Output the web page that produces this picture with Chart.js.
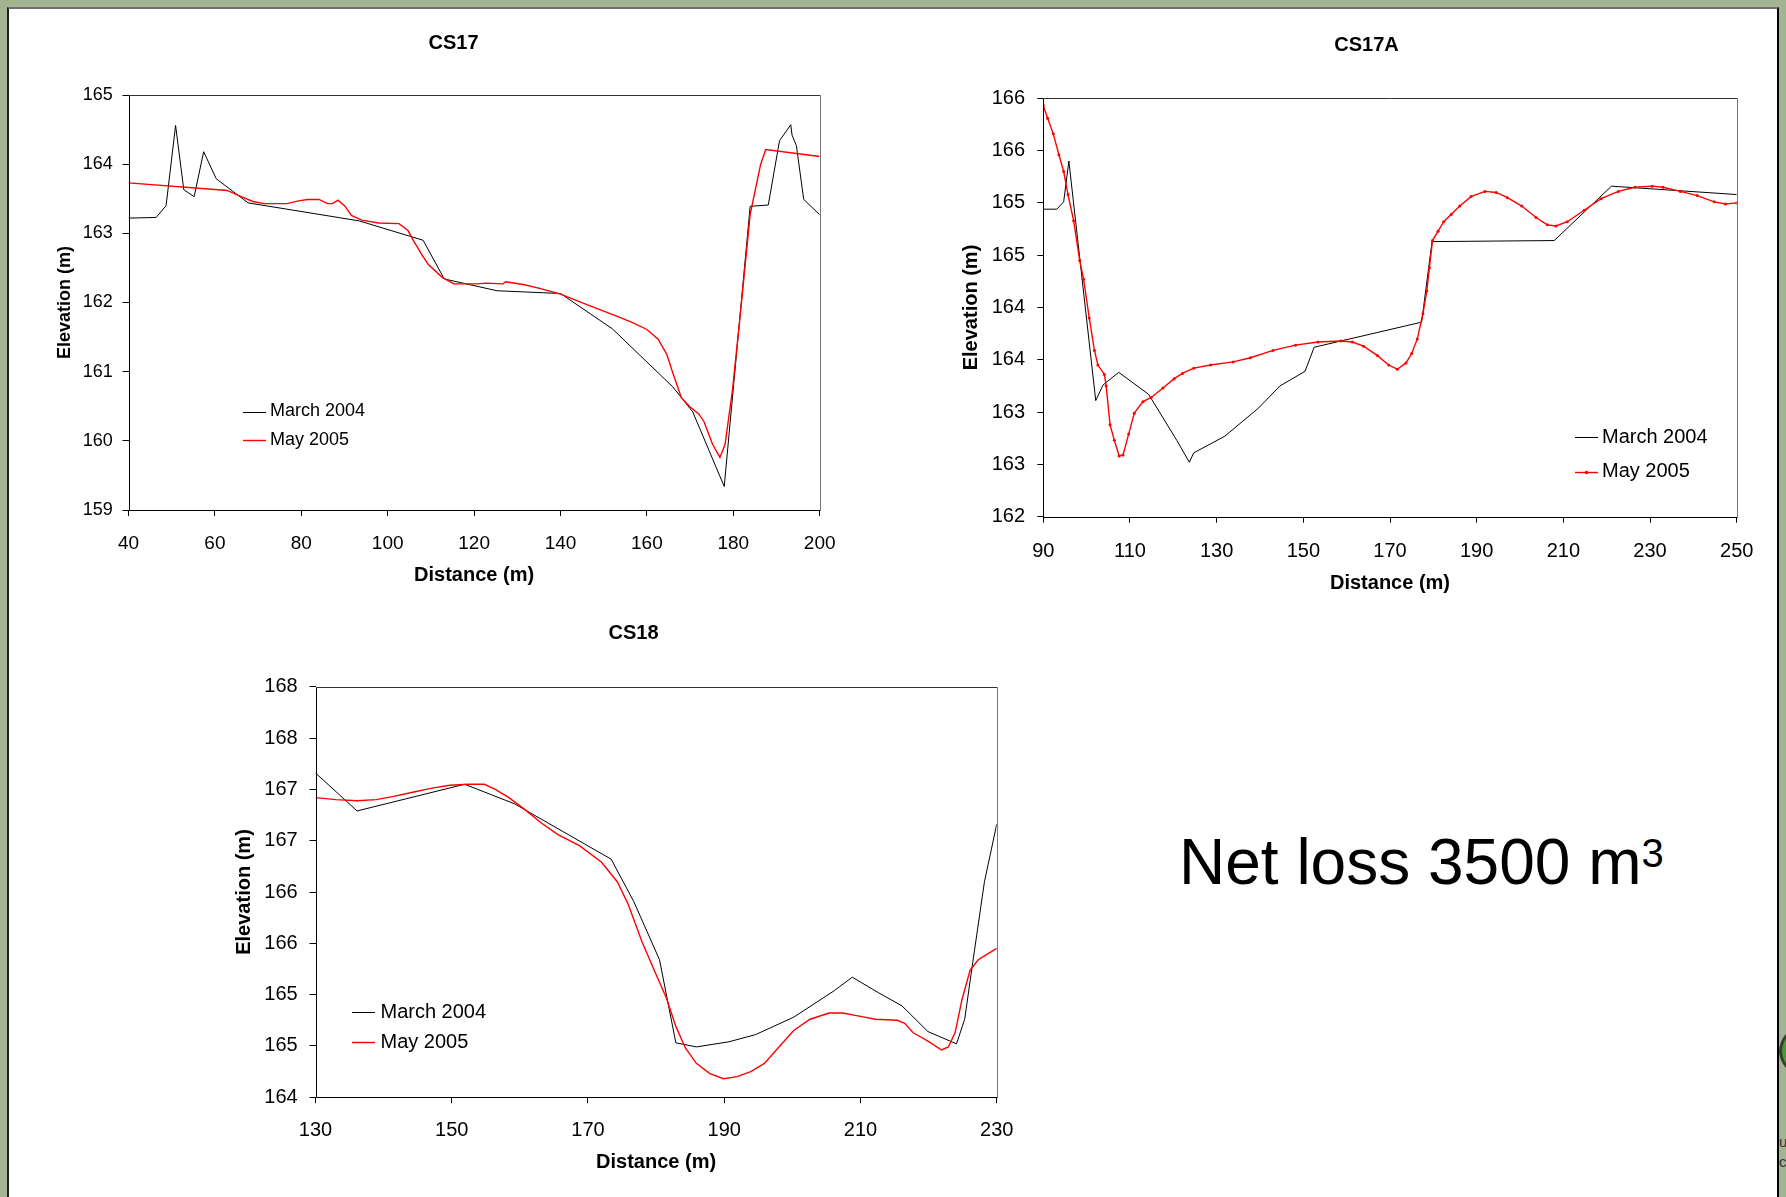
<!DOCTYPE html>
<html>
<head>
<meta charset="utf-8">
<title>Cross-section change CS17, CS17A, CS18</title>
<script src="https://cdn.jsdelivr.net/npm/chart.js@4.4.1/dist/chart.umd.min.js"></script>
<style>
  html, body { margin:0; padding:0; }
  body { width:1786px; height:1197px; overflow:hidden; position:relative; background:#a3b492; font-family:"Liberation Sans", Arial, sans-serif; }
  #slide { position:absolute; left:7px; top:7px; width:1772px; height:1210px; box-sizing:border-box; background:#fff; border-left:2px solid #1e1e1e; border-top:2px solid #6e6e6e; border-right:2px solid #000; }
  canvas { position:absolute; }
  #netloss { position:absolute; left:1179px; top:830px; font-size:64px; line-height:1; color:#000; white-space:nowrap; }
  #netloss sup { font-size:40px; vertical-align:baseline; position:relative; top:-17px; }
  #logo { position:absolute; left:1779px; top:990px; width:7px; height:200px; overflow:hidden; }
  #logo .ring { position:absolute; left:0; top:12px; width:220px; height:98px; border-radius:50%; border:3px solid #33412c; background:#4a9a35; box-sizing:border-box; }
  #logo .t { position:absolute; left:0; font-size:15px; color:#333; }
</style>
</head>
<body>
<div id="slide"></div>
<canvas id="cs17"></canvas>
<canvas id="cs17a"></canvas>
<canvas id="cs18"></canvas>
<div id="netloss">Net loss 3500 m<sup>3</sup></div>
<div id="logo"><div class="ring"></div><div class="t" style="top:143px">ua</div><div class="t" style="top:163px">c</div></div>
<script>
// ---------------- DATA ----------------
const seriesLabels = ['March 2004', 'May 2005'];

// CS17
const cs17XTicks = [40, 60, 80, 100, 120, 140, 160, 180, 200];
const cs17YTickValues = [159, 160, 161, 162, 163, 164, 165];
const cs17YTickLabels = ['159', '160', '161', '162', '163', '164', '165'];
const cs17MarchX = [40, 46.4, 48.7, 50.9, 52.8, 55.2, 57.4, 60.3, 67.7, 93.4, 108.2, 113.1, 125.3, 140.0, 152.0, 166.0, 170.6, 177.9, 183.9, 188.1, 190.7, 193.3, 193.6, 194.6, 196.3, 200];
const cs17MarchY = [163.22, 163.23, 163.40, 164.56, 163.63, 163.53, 164.18, 163.79, 163.44, 163.18, 162.90, 162.34, 162.17, 162.13, 161.62, 160.78, 160.42, 159.34, 163.39, 163.41, 164.34, 164.57, 164.42, 164.27, 163.49, 163.27];
const cs17MayX = [40, 60.8, 62.8, 66.1, 68.8, 71.4, 76.7, 79.4, 81.4, 84.1, 86.1, 87.2, 88.5, 90.0, 91.6, 94.0, 97.9, 102.6, 104.7, 106.0, 108.0, 109.4, 112.7, 115.3, 120.7, 122.7, 126.7, 127.3, 131.4, 135.4, 140.0, 147.3, 152.7, 156.7, 160.0, 162.6, 164.6, 166.0, 168.0, 170.0, 172.0, 173.2, 175.2, 176.9, 178.1, 179.8, 181.8, 183.9, 185.2, 186.3, 187.5, 200];
const cs17MayY = [163.73, 163.63, 163.62, 163.53, 163.46, 163.43, 163.43, 163.47, 163.49, 163.49, 163.43, 163.43, 163.48, 163.40, 163.26, 163.19, 163.15, 163.14, 163.04, 162.89, 162.68, 162.55, 162.36, 162.27, 162.27, 162.28, 162.27, 162.30, 162.26, 162.20, 162.12, 161.94, 161.81, 161.71, 161.61, 161.47, 161.25, 160.98, 160.62, 160.49, 160.39, 160.28, 159.95, 159.76, 159.95, 160.73, 161.94, 163.27, 163.66, 163.99, 164.21, 164.11];

// CS17A
const cs17aXTicks = [90, 110, 130, 150, 170, 190, 210, 230, 250];
const cs17aYTickValues = [162, 162.5, 163, 163.5, 164, 164.5, 165, 165.5, 166];
const cs17aYTickLabels = ['162', '163', '163', '164', '164', '165', '165', '166', '166'];
const cs17aMarchX = [90, 93.1, 94.7, 95.9, 102.1, 103.8, 107.4, 114.3, 120.8, 123.7, 124.7, 131.9, 139.7, 144.6, 150.4, 152.5, 177.3, 179.7, 207.9, 221.1, 250];
const cs17aMarchY = [164.94, 164.94, 165.01, 165.40, 163.11, 163.26, 163.38, 163.17, 162.73, 162.52, 162.61, 162.77, 163.04, 163.25, 163.39, 163.62, 163.86, 164.63, 164.64, 165.16, 165.08];
const cs17aMayX = [90, 91.0, 92.3, 93.6, 94.7, 95.7, 97.0, 98.4, 99.3, 100.6, 101.8, 102.6, 104.1, 104.5, 105.4, 106.4, 107.5, 108.4, 109.7, 111.0, 113.0, 114.9, 117.6, 120.2, 122.1, 124.7, 128.6, 133.8, 137.8, 143.0, 148.2, 153.4, 158.6, 161.3, 163.9, 167.1, 169.7, 171.7, 173.7, 175.0, 176.3, 177.6, 178.5, 179.1, 179.8, 181.1, 182.4, 184.1, 186.1, 188.7, 191.9, 194.5, 197.1, 200.4, 203.7, 206.3, 208.3, 210.9, 214.8, 218.7, 222.7, 226.5, 230.5, 233.0, 237.0, 240.9, 244.8, 247.4, 250];
const cs17aMayY = [165.93, 165.81, 165.66, 165.46, 165.30, 165.08, 164.83, 164.45, 164.27, 163.90, 163.59, 163.45, 163.36, 163.25, 162.88, 162.73, 162.58, 162.59, 162.79, 162.99, 163.10, 163.14, 163.23, 163.32, 163.37, 163.42, 163.45, 163.48, 163.52, 163.59, 163.64, 163.67, 163.68, 163.67, 163.63, 163.54, 163.45, 163.41, 163.47, 163.56, 163.70, 163.94, 164.16, 164.38, 164.64, 164.73, 164.82, 164.89, 164.97, 165.06, 165.11, 165.10, 165.05, 164.97, 164.86, 164.79, 164.78, 164.82, 164.93, 165.04, 165.11, 165.15, 165.16, 165.15, 165.11, 165.07, 165.01, 164.99, 165.0];

// CS18
const cs18XTicks = [130, 150, 170, 190, 210, 230];
const cs18YTickValues = [164, 164.5, 165, 165.5, 166, 166.5, 167, 167.5, 168];
const cs18YTickLabels = ['164', '165', '165', '166', '166', '167', '167', '168', '168'];
const cs18MarchX = [130, 136.1, 151.9, 159.2, 173.4, 176.7, 180.5, 182.9, 185.9, 190.7, 194.6, 200.2, 206.2, 208.8, 212.6, 216.1, 219.9, 224.1, 225.3, 226.5, 228.2, 230];
const cs18MarchY = [167.16, 166.79, 167.05, 166.86, 166.32, 165.91, 165.34, 164.53, 164.49, 164.54, 164.61, 164.78, 165.04, 165.17, 165.02, 164.89, 164.64, 164.52, 164.76, 165.32, 166.10, 166.66];
const cs18MayX = [130, 133.0, 136.1, 138.9, 141.3, 144.1, 146.9, 149.7, 152.5, 154.8, 156.4, 158.4, 160.8, 163.2, 165.6, 168.8, 172.0, 174.3, 175.9, 177.9, 179.9, 181.5, 182.9, 184.3, 185.9, 187.9, 189.9, 191.9, 193.9, 195.9, 197.9, 200.2, 202.6, 205.4, 207.4, 209.8, 212.2, 215.4, 216.5, 217.7, 220.1, 221.9, 222.9, 223.9, 224.9, 226.1, 227.3, 228.5, 230];
const cs18MayY = [166.92, 166.90, 166.89, 166.90, 166.93, 166.97, 167.01, 167.04, 167.05, 167.05, 167.00, 166.92, 166.80, 166.67, 166.56, 166.45, 166.29, 166.10, 165.88, 165.52, 165.21, 164.97, 164.69, 164.48, 164.33, 164.23, 164.18, 164.20, 164.25, 164.33, 164.48, 164.65, 164.76, 164.82, 164.82, 164.79, 164.76, 164.75, 164.72, 164.63, 164.54, 164.46, 164.49, 164.63, 164.95, 165.24, 165.34, 165.39, 165.45];

// ---------------- RENDERING ----------------
const FONT_FAMILY = '"Liberation Sans", Arial, sans-serif';
function pts(xs, ys) { return xs.map((x, i) => ({ x: x, y: ys[i] })); }

const plotFrame = {
  id: 'plotFrame',
  afterDatasetsDraw(chart) {
    const { ctx, chartArea } = chart;
    const l = Math.round(chartArea.left) + 0.5, t = Math.round(chartArea.top) + 0.5;
    const r = Math.round(chartArea.right) + 0.5, b = Math.round(chartArea.bottom) + 0.5;
    ctx.save();
    ctx.lineWidth = 1;
    ctx.strokeStyle = '#333';
    ctx.beginPath(); ctx.moveTo(l, t); ctx.lineTo(r, t); ctx.stroke();
    ctx.strokeStyle = '#777';
    ctx.beginPath(); ctx.moveTo(r, t); ctx.lineTo(r, b); ctx.stroke();
    ctx.strokeStyle = '#000';
    ctx.beginPath(); ctx.moveTo(l, t); ctx.lineTo(l, b); ctx.lineTo(r, b); ctx.stroke();
    ctx.restore();
  }
};

const insideLegend = {
  id: 'insideLegend',
  afterDraw(chart, args, o) {
    const ctx = chart.ctx;
    ctx.save();
    ctx.font = o.size + 'px ' + FONT_FAMILY;
    ctx.textBaseline = 'middle';
    ctx.textAlign = 'left';
    chart.data.datasets.forEach((ds, i) => {
      const y = o.y[i] - o.T;
      const x1 = o.x1 - o.L, x2 = o.x2 - o.L;
      const yl = Math.round(y) + 0.5;
      ctx.strokeStyle = ds.borderColor;
      ctx.lineWidth = ds.borderWidth;
      ctx.beginPath(); ctx.moveTo(x1, yl); ctx.lineTo(x2, yl); ctx.stroke();
      if (ds.pointRadius > 0) {
        ctx.fillStyle = ds.borderColor;
        ctx.beginPath(); ctx.arc((x1 + x2) / 2, yl, ds.pointRadius + 0.3, 0, Math.PI * 2); ctx.fill();
      }
      ctx.fillStyle = '#000';
      ctx.fillText(ds.label, o.tx - o.L, y);
    });
    ctx.restore();
  }
};

function buildChart(id, s) {
  const canvas = document.getElementById(id);
  const area = s.area;
  const tLH = s.titleSize * 1.2, yLH = s.yTitleSize * 1.2, xLH = s.xTitleSize * 1.2;
  // left edge of the y scale box and canvas extent, so the chart title centres where it should
  const leftEdge = s.yTitleCX - yLH / 2 - 2;
  const canvasRight = 2 * s.titleCX - leftEdge;
  const L = Math.floor(leftEdge - 8), T = s.T, W = Math.ceil(canvasRight - L), H = s.H;
  const pL = leftEdge - L, pR = L + W - canvasRight;
  const rGap = canvasRight - area.r;
  const yW = area.l - leftEdge;
  const pT = s.titleCY - T - tLH / 2;
  const titlePadB = area.t - (T + pT + tLH);
  const xH = s.xTitleCY + xLH / 2 - area.b;
  const pB = T + H - (area.b + xH);
  const xTickPad = s.xLabelCY - area.b - 6 - (s.xTickSize * 1.2) / 2;
  const yTickPad = area.l - 6 - s.yLabelRight;

  canvas.width = W; canvas.height = H;
  canvas.style.left = L + 'px'; canvas.style.top = T + 'px';
  canvas.style.width = W + 'px'; canvas.style.height = H + 'px';

  const datasets = [
    { label: seriesLabels[0], data: s.march, borderColor: '#000000', backgroundColor: '#000000', borderWidth: 1, pointRadius: 0, showLine: true, tension: 0, order: 1 },
    { label: seriesLabels[1], data: s.may, borderColor: '#ff0000', backgroundColor: '#ff0000', borderWidth: 1.4, pointRadius: s.mayMarker, pointBorderWidth: 0, pointBackgroundColor: '#ff0000', showLine: true, tension: 0, order: 0 }
  ];

  return new Chart(canvas, {
    type: 'scatter',
    data: { datasets: datasets },
    options: {
      responsive: false, animation: false, devicePixelRatio: 1,
      events: [],
      layout: { padding: { left: pL, right: pR, top: pT, bottom: pB } },
      plugins: {
        legend: { display: false }, tooltip: { enabled: false },
        title: { display: true, text: s.title, color: '#000', font: { family: FONT_FAMILY, size: s.titleSize, weight: 'bold', lineHeight: 1.2 }, padding: { top: 0, bottom: titlePadB } },
        insideLegend: Object.assign({ L: L, T: T }, s.legend)
      },
      scales: {
        x: {
          type: 'linear', position: 'bottom', min: s.xTicks[0], max: s.xTicks[s.xTicks.length - 1],
          afterFit: sc => { sc.height = xH; sc.paddingRight = rGap; sc.paddingLeft = 0; },
          afterBuildTicks: sc => { sc.ticks = s.xTicks.map(v => ({ value: v })); },
          ticks: { autoSkip: false, maxRotation: 0, padding: xTickPad, color: '#000', font: { family: FONT_FAMILY, size: s.xTickSize, lineHeight: 1.2 }, callback: v => String(v) },
          grid: { display: true, drawOnChartArea: false, drawTicks: true, tickLength: 6, color: '#000', lineWidth: 1 },
          border: { display: false },
          title: { display: true, text: 'Distance (m)', color: '#000', font: { family: FONT_FAMILY, size: s.xTitleSize, weight: 'bold', lineHeight: 1.2 }, padding: { top: 0, bottom: 0 } }
        },
        y: {
          type: 'linear', position: 'left', min: s.yTickValues[0], max: s.yTickValues[s.yTickValues.length - 1],
          afterFit: sc => { sc.width = yW; },
          afterBuildTicks: sc => { sc.ticks = s.yTickValues.map(v => ({ value: v })); },
          ticks: { autoSkip: false, padding: yTickPad, color: '#000', font: { family: FONT_FAMILY, size: s.yTickSize, lineHeight: 1.2 }, callback: (v, i) => s.yTickLabels[i] },
          grid: { display: true, drawOnChartArea: false, drawTicks: true, tickLength: 6, color: '#000', lineWidth: 1 },
          border: { display: false },
          title: { display: true, text: 'Elevation (m)', color: '#000', font: { family: FONT_FAMILY, size: s.yTitleSize, weight: 'bold', lineHeight: 1.2 }, padding: { top: 2, bottom: 0 } }
        }
      }
    },
    plugins: [plotFrame, insideLegend]
  });
}

buildChart('cs17', {
  T: 10, H: 600,
  area: { l: 128.5, r: 819.5, t: 95, b: 510 },
  title: 'CS17', titleSize: 20, titleCX: 453.5, titleCY: 43.5,
  yTitleSize: 18, yTitleCX: 65,
  xTitleSize: 20, xTitleCY: 575,
  xTicks: cs17XTicks, xTickSize: 19, xLabelCY: 544,
  yTickValues: cs17YTickValues, yTickLabels: cs17YTickLabels, yTickSize: 18, yLabelRight: 112.7,
  march: pts(cs17MarchX, cs17MarchY), may: pts(cs17MayX, cs17MayY), mayMarker: 0,
  legend: { size: 18, x1: 243, x2: 266, tx: 270, y: [411.5, 440] }
});

buildChart('cs17a', {
  T: 10, H: 600,
  area: { l: 1043.3, r: 1736.7, t: 98.3, b: 516.7 },
  title: 'CS17A', titleSize: 20, titleCX: 1366.5, titleCY: 45,
  yTitleSize: 20, yTitleCX: 971,
  xTitleSize: 20, xTitleCY: 583.5,
  xTicks: cs17aXTicks, xTickSize: 20, xLabelCY: 551.5,
  yTickValues: cs17aYTickValues, yTickLabels: cs17aYTickLabels, yTickSize: 20, yLabelRight: 1025,
  march: pts(cs17aMarchX, cs17aMarchY), may: pts(cs17aMayX, cs17aMayY), mayMarker: 1.5,
  legend: { size: 20, x1: 1575, x2: 1598, tx: 1602, y: [437.4, 471.5] }
});

buildChart('cs18', {
  T: 610, H: 580,
  area: { l: 315.5, r: 996.2, t: 686.8, b: 1097.2 },
  title: 'CS18', titleSize: 20, titleCX: 633.5, titleCY: 633.6,
  yTitleSize: 20, yTitleCX: 244.5,
  xTitleSize: 20, xTitleCY: 1162,
  xTicks: cs18XTicks, xTickSize: 20, xLabelCY: 1130.4,
  yTickValues: cs18YTickValues, yTickLabels: cs18YTickLabels, yTickSize: 20, yLabelRight: 297.7,
  march: pts(cs18MarchX, cs18MarchY), may: pts(cs18MayX, cs18MayY), mayMarker: 0,
  legend: { size: 20, x1: 352, x2: 375, tx: 380.5, y: [1012.3, 1042] }
});
</script>
</body>
</html>
